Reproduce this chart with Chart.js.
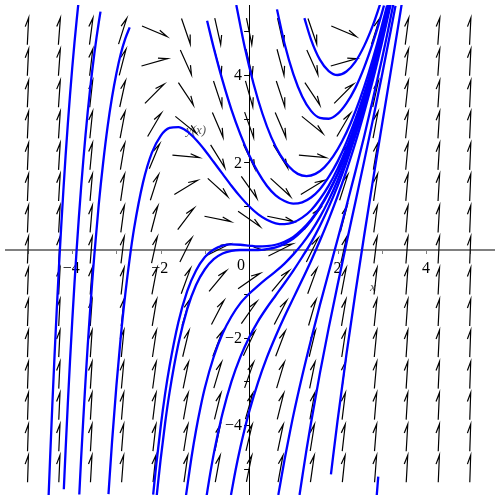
<!DOCTYPE html>
<html>
<head>
<meta charset="utf-8">
<script src="https://cdn.jsdelivr.net/npm/chart.js@4"></script>
<style>html,body{margin:0;padding:0;background:#fff}</style>
</head>
<body>
<canvas id="campo" width="500" height="500"></canvas>
<script>
// curvas solucion (x, y)
var solL1 = [[-4.535,-5.65],[-4.5,-4.76],[-4.45,-3.55],[-4.4,-2.42],[-4.35,-1.37],[-4.3,-0.39],[-4.25,0.52],[-4.2,1.36],[-4.15,2.15],[-4.1,2.87],[-4.05,3.54],[-4.0,4.16],[-3.95,4.73],[-3.9,5.25],[-3.86,5.64]];
var solL2 = [[-4.19,-5.47],[-4.15,-4.58],[-4.1,-3.52],[-4.05,-2.54],[-4.0,-1.63],[-3.95,-0.78],[-3.9,0.01],[-3.85,0.74],[-3.8,1.42],[-3.75,2.04],[-3.7,2.62],[-3.65,3.15],[-3.6,3.64],[-3.55,4.08],[-3.5,4.49],[-3.45,4.86],[-3.4,5.20],[-3.36,5.45]];
var solL3 = [[-3.84,-5.59],[-3.8,-4.79],[-3.75,-3.87],[-3.7,-3.00],[-3.65,-2.19],[-3.6,-1.45],[-3.55,-0.75],[-3.5,-0.11],[-3.4,1.04],[-3.3,2.00],[-3.2,2.82],[-3.1,3.49],[-3.0,4.04],[-2.9,4.49],[-2.8,4.83],[-2.7,5.09]];
var solE = [[-3.18,-5.58],[-3.1,-4.39],[-3.0,-3.09],[-2.9,-1.96],[-2.8,-1.01],[-2.7,-0.19],[-2.6,0.50],[-2.4,1.54],[-2.2,2.22],[-2.0,2.61],[-1.8,2.79],[-1.6,2.81],[-1.4,2.71],[-1.2,2.52],[-1.0,2.28],[-0.8,2.01],[-0.6,1.74],[-0.4,1.47],[-0.2,1.22],[0,1.00],[0.2,0.82],[0.4,0.69],[0.6,0.61],[0.8,0.59],[1.0,0.63],[1.2,0.74],[1.4,0.91],[1.6,1.16],[1.8,1.47],[2.0,1.86],[2.2,2.33],[2.4,2.87],[2.6,3.49],[2.8,4.18],[3.0,4.95],[3.16,5.62]];
var solF1 = [[-2.17,-5.59],[-2.1,-4.91],[-2.0,-4.04],[-1.9,-3.29],[-1.8,-2.66],[-1.6,-1.65],[-1.4,-0.94],[-1.2,-0.47],[-1.0,-0.16],[-0.8,0.01],[-0.6,0.10],[-0.4,0.13],[-0.2,0.12],[0,0.10],[0.2,0.08],[0.4,0.09],[0.6,0.12],[0.8,0.19],[1.0,0.30],[1.2,0.47],[1.4,0.69],[1.6,0.98],[1.8,1.33],[2.0,1.74],[2.2,2.23],[2.4,2.79],[2.6,3.42],[2.8,4.12],[3.0,4.91],[3.17,5.63]];
var solF2 = [[-2.09,-5.62],[-2.0,-4.78],[-1.9,-3.96],[-1.8,-3.26],[-1.6,-2.15],[-1.4,-1.35],[-1.2,-0.80],[-1.0,-0.44],[-0.8,-0.21],[-0.6,-0.08],[-0.4,-0.02],[-0.2,0.00],[0,0],[0.2,0.00],[0.4,0.02],[0.6,0.06],[0.8,0.14],[1.0,0.26],[1.2,0.44],[1.4,0.67],[1.6,0.96],[1.8,1.31],[2.0,1.73],[2.2,2.22],[2.4,2.78],[2.6,3.41],[2.8,4.12],[3.0,4.90],[3.17,5.63]];
var solG3 = [[-1.43,-5.63],[-1.3,-4.72],[-1.2,-4.12],[-1.1,-3.60],[-1.0,-3.15],[-0.8,-2.44],[-0.6,-1.91],[-0.4,-1.52],[-0.2,-1.22],[0,-1.00],[0.2,-0.82],[0.4,-0.65],[0.6,-0.49],[0.8,-0.31],[1.0,-0.10],[1.2,0.14],[1.4,0.42],[1.6,0.75],[1.8,1.14],[2.0,1.59],[2.2,2.11],[2.4,2.69],[2.6,3.34],[2.8,4.06],[3.0,4.85],[3.18,5.63]];
var solG4 = [[-0.96,-5.61],[-0.9,-5.23],[-0.8,-4.66],[-0.7,-4.17],[-0.6,-3.73],[-0.4,-3.01],[-0.2,-2.45],[0,-2.00],[0.2,-1.63],[0.4,-1.32],[0.6,-1.04],[0.8,-0.76],[1.0,-0.47],[1.2,-0.16],[1.4,0.17],[1.6,0.55],[1.8,0.98],[2.0,1.46],[2.2,2.00],[2.4,2.60],[2.6,3.26],[2.8,4.00],[3.0,4.80],[3.19,5.63]];
var solG5 = [[-0.41,-5.60],[-0.3,-5.00],[-0.2,-4.52],[-0.1,-4.09],[0,-3.70],[0.2,-3.03],[0.4,-2.46],[0.6,-1.97],[0.8,-1.52],[1.0,-1.10],[1.2,-0.68],[1.4,-0.25],[1.6,0.21],[1.8,0.70],[2.0,1.23],[2.2,1.81],[2.4,2.44],[2.6,3.14],[2.8,3.89],[3.0,4.72],[3.2,5.61]];
var solG6 = [[0.66,-5.60],[0.7,-5.37],[0.8,-4.80],[0.9,-4.28],[1.0,-3.78],[1.2,-2.88],[1.4,-2.05],[1.6,-1.26],[1.8,-0.51],[2.0,0.24],[2.2,1.00],[2.4,1.78],[2.6,2.59],[2.8,3.45],[3.0,4.35],[3.1,4.82],[3.26,5.61]];
var solG7 = [[1.14,-5.60],[1.2,-5.20],[1.3,-4.55],[1.4,-3.95],[1.6,-2.82],[1.8,-1.78],[2.0,-0.80],[2.2,0.15],[2.4,1.08],[2.6,2.02],[2.8,2.98],[3.0,3.97],[3.2,5.00],[3.31,5.58]];
var solG8 = [[1.85,-5.13],[1.9,-4.71],[2.0,-3.90],[2.2,-2.39],[2.4,-1.00],[2.6,0.32],[2.8,1.59],[3.0,2.83],[3.2,4.06],[3.4,5.30],[3.45,5.62]];
var solCorta = [[2.885,-5.62],[2.92,-5.18]];
var solA = [[1.25,5.30],[1.4,4.81],[1.6,4.35],[1.8,4.09],[2.0,4.00],[2.2,4.08],[2.4,4.30],[2.6,4.66],[2.8,5.14],[2.96,5.61]];
var solB = [[0.63,5.50],[0.8,4.72],[1.0,4.02],[1.2,3.51],[1.4,3.18],[1.6,3.02],[1.8,3.00],[2.0,3.11],[2.2,3.35],[2.4,3.70],[2.6,4.17],[2.8,4.74],[2.9,5.06],[3.0,5.41],[3.05,5.59]];
var solT3 = [[-0.29,5.60],[-0.1,4.64],[0.1,3.80],[0.3,3.12],[0.5,2.58],[0.7,2.18],[0.9,1.91],[1.1,1.74],[1.3,1.69],[1.5,1.74],[1.7,1.89],[1.9,2.14],[2.1,2.48],[2.3,2.91],[2.5,3.43],[2.7,4.04],[2.9,4.73],[3.12,5.59]];
var solT4 = [[-0.95,5.24],[-0.8,4.62],[-0.6,3.87],[-0.4,3.21],[-0.2,2.65],[0,2.17],[0.2,1.78],[0.4,1.47],[0.6,1.25],[0.8,1.12],[1.0,1.06],[1.2,1.09],[1.4,1.20],[1.6,1.39],[1.8,1.67],[2.0,2.02],[2.2,2.46],[2.4,2.98],[2.6,3.57],[2.8,4.25],[3.0,5.01],[3.15,5.63]];

var curvas = [solL1, solL2, solL3, solE, solF1, solF2, solG3, solG4, solG5, solG6, solG7, solG8, solCorta, solA, solB, solT3, solT4];

// malla del campo de direcciones
var campo_x = [-5, -4.29, -3.57, -2.86, -2.14, -1.43, -0.71, 0, 0.71, 1.43, 2.14, 2.86, 3.57, 4.29, 5];
var campo_y = [-5, -4.29, -3.57, -2.86, -2.14, -1.43, -0.71, 0, 0.71, 1.43, 2.14, 2.86, 3.57, 4.29, 5];

// ecuacion: y' = x^2 - y
function pendiente(x, y) {
    return x * x - y;
}

var ticks_x = [-4, -2, 0, 2, 4];
var ticks_y = [-4, -2, 2, 4];
var marcas = [-5, -4, -3, -2, -1, 1, 2, 3, 4, 5];

var ejes_flechas = {
    id: 'ejes_flechas',
    beforeDatasetsDraw: function (chart) {
        var ctx = chart.ctx;
        var sx = chart.scales.x, sy = chart.scales.y;
        var area = chart.chartArea;
        var x0 = sx.getPixelForValue(0), y0 = sy.getPixelForValue(0);
        ctx.save();

        // eje x
        ctx.strokeStyle = '#808080';
        ctx.lineWidth = 2;
        ctx.beginPath();
        ctx.moveTo(area.left, y0);
        ctx.lineTo(area.right, y0);
        ctx.stroke();
        ctx.lineWidth = 1;
        marcas.forEach(function (v) {
            var px = Math.round(sx.getPixelForValue(v)) + 0.5;
            ctx.beginPath();
            ctx.moveTo(px, y0);
            ctx.lineTo(px, y0 + 4);
            ctx.stroke();
        });

        // eje y
        ctx.strokeStyle = '#000';
        ctx.beginPath();
        ctx.moveTo(Math.round(x0) + 0.5, area.top);
        ctx.lineTo(Math.round(x0) + 0.5, area.bottom);
        ctx.stroke();
        marcas.forEach(function (v) {
            var py = Math.round(sy.getPixelForValue(v)) + 0.5;
            ctx.beginPath();
            ctx.moveTo(x0 - 5, py);
            ctx.lineTo(x0, py);
            ctx.stroke();
        });

        // etiquetas
        ctx.fillStyle = '#000';
        ctx.font = '16px "Liberation Serif"';
        ctx.textBaseline = 'middle';
        ctx.textAlign = 'center';
        ticks_x.forEach(function (v) {
            var txt = v < 0 ? '\u2212' + (-v) : String(v);
            var px = sx.getPixelForValue(v);
            if (v === 0) {
                ctx.fillText(txt, px - 8, y0 + 16);
            } else {
                ctx.fillText(txt, px - (v < 0 ? 1 : 0), y0 + 19);
            }
        });
        ctx.textAlign = 'right';
        ticks_y.forEach(function (v) {
            var txt = v < 0 ? '\u2212' + (-v) : String(v);
            ctx.fillText(txt, x0 - 7, sy.getPixelForValue(v) + 1);
        });
        ctx.fillStyle = '#555';
        ctx.font = 'italic 13px "Liberation Serif"';
        ctx.textAlign = 'center';
        ctx.fillText('y(x)', sx.getPixelForValue(-1.2), sy.getPixelForValue(2.73));
        ctx.fillText('x', sx.getPixelForValue(2.8), sy.getPixelForValue(-0.85));

        // flechas
        var ux = sx.getPixelForValue(1) - x0;
        var uy = y0 - sy.getPixelForValue(1);
        var largo = 27;
        ctx.strokeStyle = '#000';
        ctx.lineWidth = 1.2;
        campo_x.forEach(function (fx) {
            campo_y.forEach(function (fy) {
                var m = pendiente(fx, fy);
                var dx = ux, dy = -m * uy;
                var n = Math.sqrt(dx * dx + dy * dy);
                dx /= n; dy /= n;
                var cx = sx.getPixelForValue(fx), cy = sy.getPixelForValue(fy);
                var tx = cx - dx * largo / 2, ty = cy - dy * largo / 2;
                var hx = cx + dx * largo / 2, hy = cy + dy * largo / 2;
                // lado izquierdo respecto al sentido
                var lx = dy, ly = -dx;
                ctx.beginPath();
                ctx.moveTo(tx, ty);
                ctx.lineTo(hx, hy);
                ctx.lineTo(hx - dx * 9 + lx * 3, hy - dy * 9 + ly * 3);
                ctx.stroke();
            });
        });
        ctx.restore();
    }
};

var chart_campo = new Chart(document.getElementById('campo').getContext('2d'), {
    type: 'scatter',
    data: {
        datasets: curvas.map(function (c) {
            return {
                data: c.map(function (p) { return { x: p[0], y: p[1] }; }),
                showLine: true,
                borderColor: '#0000ff',
                borderWidth: 2.3,
                pointRadius: 0,
                cubicInterpolationMode: 'monotone',
                fill: false
            };
        })
    },
    options: {
        responsive: false,
        animation: false,
        layout: { padding: 5 },
        plugins: { legend: { display: false }, tooltip: { enabled: false } },
        scales: {
            x: { type: 'linear', min: -5.52, max: 5.56, display: false },
            y: { type: 'linear', min: -5.6, max: 5.6, display: false }
        }
    },
    plugins: [ejes_flechas]
});
</script>
</body>
</html>
